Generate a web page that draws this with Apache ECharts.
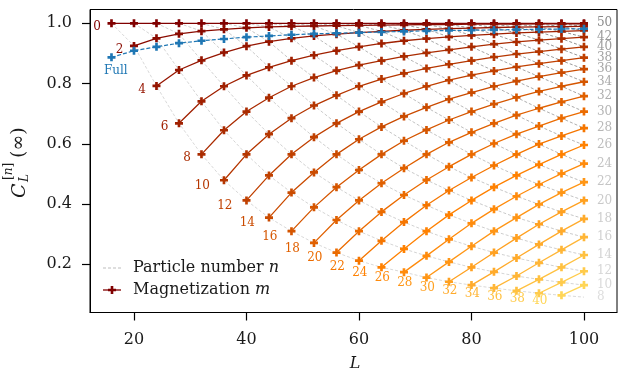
<!DOCTYPE html>
<html><head><meta charset="utf-8">
<script src="https://cdn.jsdelivr.net/npm/echarts@6/dist/echarts.min.js"></script>
<style>html,body{margin:0;padding:0;background:#fff}#c{width:621px;height:374px}</style>
</head><body><div id="c"></div>
<script>
// ---- data ----
const systemSizes = [16,20,24,28,32,36,40,44,48,52,56,60,64,68,72,76,80,84,88,92,96,100];
const magnetizations = [0,2,4,6,8,10,12,14,16,18,20,22,24,26,28,30,32,34,36,38,40];
// each curve's values belong to the LAST entries of systemSizes
const m0  = [1.000,1.000,1.000,1.000,1.000,1.000,1.000,1.000,1.000,1.000,1.000,1.000,1.000,1.000,1.000,1.000,1.000,1.000,1.000,1.000,1.000,1.000];
const m2  = [0.925,0.950,0.965,0.974,0.980,0.985,0.988,0.990,0.991,0.992,0.993,0.994,0.995,0.996,0.996,0.997,0.997,0.997,0.998,0.998,0.998];
const m4  = [0.792,0.845,0.877,0.903,0.924,0.939,0.950,0.958,0.964,0.969,0.973,0.977,0.980,0.982,0.984,0.986,0.987,0.988,0.989,0.990];
const m6  = [0.668,0.741,0.791,0.827,0.854,0.876,0.894,0.909,0.922,0.933,0.942,0.949,0.955,0.960,0.964,0.968,0.971,0.973,0.976];
const m8  = [0.565,0.645,0.707,0.753,0.791,0.820,0.843,0.861,0.876,0.890,0.902,0.912,0.922,0.931,0.938,0.944,0.949,0.954];
const m10 = [0.479,0.565,0.632,0.685,0.727,0.761,0.791,0.815,0.834,0.850,0.864,0.876,0.888,0.898,0.906,0.914,0.922];
const m12 = [0.412,0.495,0.565,0.622,0.668,0.707,0.739,0.767,0.791,0.811,0.828,0.842,0.855,0.866,0.876,0.886];
const m14 = [0.355,0.438,0.505,0.565,0.615,0.656,0.691,0.721,0.748,0.770,0.791,0.808,0.823,0.836,0.848];
const m16 = [0.310,0.389,0.456,0.513,0.565,0.610,0.646,0.679,0.707,0.732,0.754,0.774,0.791,0.806];
const m18 = [0.271,0.347,0.412,0.469,0.519,0.565,0.605,0.638,0.668,0.695,0.718,0.739,0.758];
const m20 = [0.239,0.310,0.374,0.430,0.480,0.524,0.565,0.601,0.632,0.659,0.685,0.707];
const m22 = [0.212,0.278,0.340,0.396,0.445,0.488,0.528,0.565,0.599,0.626,0.652];
const m24 = [0.190,0.251,0.310,0.364,0.412,0.456,0.495,0.531,0.565,0.596];
const m26 = [0.174,0.228,0.283,0.336,0.383,0.426,0.465,0.501,0.534];
const m28 = [0.156,0.208,0.260,0.310,0.355,0.399,0.438,0.473];
const m30 = [0.142,0.190,0.239,0.287,0.333,0.374,0.412];
const m32 = [0.131,0.175,0.221,0.266,0.310,0.351];
const m34 = [0.121,0.161,0.205,0.248,0.290];
const m36 = [0.112,0.150,0.190,0.231];
const m38 = [0.104,0.140,0.177];
const m40 = [0.097,0.131];
const m42 = [0.091];            // only the end of the n = 8 dashed line
const fullChain = [0.887,0.909,0.922,0.934,0.942,0.948,0.954,0.958,0.962,0.965,0.967,0.969,0.971,0.973,0.975,0.976,0.977,0.978,0.979,0.980,0.981,0.982];
const particleEndLabels = [50,42,40,38,36,34,32,30,28,26,24,22,20,18,16,14,12,10,8];
const xTicks = [20,40,60,80,100];
const yTicks = [0.2,0.4,0.6,0.8,1.0];

const curveValues = {0:m0,2:m2,4:m4,6:m6,8:m8,10:m10,12:m12,14:m14,16:m16,18:m18,20:m20,
  22:m22,24:m24,26:m26,28:m28,30:m30,32:m32,34:m34,36:m36,38:m38,40:m40,42:m42};

// ---- styling helpers ----
const FONT = 'DejaVu Serif';
function heat(k){
  const x = 0.25 + k/40*0.42;
  const cl = v => Math.max(0, Math.min(1, v));
  const r = cl(2*x), g = cl(2*x-0.5), b = cl(2*x-1);
  return 'rgb(' + Math.round(r*255) + ',' + Math.round(g*255) + ',' + Math.round(b*255) + ')';
}
const greysStops = [[0,255],[0.125,240],[0.25,217],[0.375,189],[0.5,150],[0.625,115],[0.75,82],[0.875,37],[1,0]];
function grey(n){
  const t = 0.27 + (n-8)/42*0.38;
  for (let i=0;i<greysStops.length-1;i++){
    const a = greysStops[i], b = greysStops[i+1];
    if (t>=a[0] && t<=b[0]){
      const v = Math.round(a[1] + (b[1]-a[1])*(t-a[0])/(b[0]-a[0]));
      return 'rgb(' + v + ',' + v + ',' + v + ')';
    }
  }
  return '#999';
}
const plusPath = 'path://M1,0H2V1H3V2H2V3H1V2H0V1H1Z';

function pointsOf(vals){
  const Ls = systemSizes.slice(systemSizes.length - vals.length);
  return vals.map((c,i) => [Ls[i], c]);
}

// dashed lines of constant particle number n = L/2 - m
const byN = {};
Object.keys(curveValues).forEach(ks => {
  const k = +ks;
  pointsOf(curveValues[k]).forEach(p => {
    const n = p[0]/2 - k;
    (byN[n] = byN[n] || []).push(p);
  });
});

const series = [];
Object.keys(byN).forEach(ns => {
  const n = +ns;
  const pts = byN[n].sort((a,b) => a[0]-b[0]);
  series.push({
    type: 'line', data: pts, symbol: 'none', silent: true, z: 1,
    lineStyle: {color: grey(n), width: 0.9, type: [3,2]}
  });
});

magnetizations.forEach(k => {
  const col = heat(k);
  const pts = pointsOf(curveValues[k]);
  const lab = String(k);
  const off = lab.length === 1 ? [-14.5, 4] : [-21.7, 5.7];
  series.push({
    type: 'line', z: 2, symbol: plusPath, symbolSize: 8, silent: true,
    itemStyle: {color: col}, lineStyle: {color: col, width: 1.3},
    data: pts.map((p,i) => i === 0 ? {value: p, label: {show: true, formatter: lab, position: 'inside',
      offset: off, color: col, fontFamily: FONT, fontSize: 12}} : p)
  });
});

const fullPts = pointsOf(fullChain);
series.push({
  type: 'line', z: 3, symbol: plusPath, symbolSize: 8, silent: true,
  itemStyle: {color: '#1f77b4'}, lineStyle: {color: '#1f77b4', width: 1.2, type: [4,2]},
  data: fullPts.map((p,i) => i === 0 ? {value: p, label: {show: true, formatter: 'Full', position: 'inside',
    offset: [4.3, 14], color: '#1f77b4', fontFamily: FONT, fontSize: 12}} : p)
});

// right-hand n labels at the end of each dashed line
series.push({
  type: 'scatter', z: 4, silent: true, symbol: 'circle', symbolSize: 1,
  itemStyle: {color: 'rgba(0,0,0,0)'},
  data: particleEndLabels.map(n => {
    const pts = byN[n];
    const last = pts[pts.length-1];
    return {value: last, label: {show: true, position: 'right', distance: 12.5, formatter: String(n),
      color: grey(n), fontFamily: FONT, fontSize: 12}};
  })
});

const chart = echarts.init(document.getElementById('c'), null, {renderer: 'canvas'});
chart.setOption({
  animation: false,
  grid: {left: 90, right: 4, top: 9.5, bottom: 61.5, show: true, borderColor: '#000', borderWidth: 1, backgroundColor: '#fff'},
  xAxis: {
    type: 'value', min: 12.18, max: 105.87,
    splitLine: {show: false},
    axisLine: {show: true, onZero: false, lineStyle: {color: '#000', width: 1}},
    axisTick: {show: true, length: 8, customValues: xTicks, lineStyle: {color: '#000', width: 1.2}},
    axisLabel: {customValues: xTicks, fontFamily: FONT, fontSize: 16, color: '#1a1a1a', margin: 19}
  },
  yAxis: {
    type: 'value', min: 0.04, max: 1.0458,
    splitLine: {show: false},
    axisLine: {show: true, onZero: false, lineStyle: {color: '#000', width: 1}},
    axisTick: {show: true, length: 8, customValues: yTicks, lineStyle: {color: '#000', width: 1.2}},
    axisLabel: {customValues: yTicks, formatter: v => v.toFixed(1), fontFamily: FONT, fontSize: 16, color: '#1a1a1a', margin: 18}
  },
  series: series,
  graphic: [
    {type: 'line', shape: {x1: 103, y1: 268, x2: 121, y2: 268}, style: {stroke: '#bdbdbd', lineWidth: 1, lineDash: [3,2]}, z: 10},
    {type: 'text', x: 133, y: 268, z: 10, style: {text: '{a|Particle number }{b|n}', verticalAlign: 'middle', fill: '#1a1a1a',
      rich: {a: {fontFamily: FONT, fontSize: 16, fill: '#1a1a1a'}, b: {fontFamily: FONT, fontSize: 16, fontStyle: 'italic', fill: '#1a1a1a'}}}},
    {type: 'line', shape: {x1: 103, y1: 290, x2: 121, y2: 290}, style: {stroke: heat(0), lineWidth: 1.3}, z: 10},
    {type: 'polygon', z: 11, shape: {points: [[110.7,286],[113.3,286],[113.3,288.7],[116,288.7],[116,291.3],[113.3,291.3],[113.3,294],[110.7,294],[110.7,291.3],[108,291.3],[108,288.7],[110.7,288.7]]}, style: {fill: heat(0)}},
    {type: 'text', x: 133, y: 290, z: 10, style: {text: '{a|Magnetization }{b|m}', verticalAlign: 'middle', fill: '#1a1a1a',
      rich: {a: {fontFamily: FONT, fontSize: 16, fill: '#1a1a1a'}, b: {fontFamily: FONT, fontSize: 16, fontStyle: 'italic', fill: '#1a1a1a'}}}},
    {type: 'text', x: 355, y: 364, style: {text: 'L', fontFamily: FONT, fontSize: 16, fontStyle: 'italic', fill: '#1a1a1a', align: 'center', verticalAlign: 'middle'}},
    {type: 'group', x: 28, y: 198, rotation: Math.PI/2, children: [
      {type: 'text', x: 0, y: -7.5, style: {text: 'C', fontFamily: FONT, fontSize: 19, fontStyle: 'italic', fill: '#1a1a1a', align: 'left', verticalAlign: 'middle'}},
      {type: 'text', x: 16, y: -3, style: {text: 'L', fontFamily: FONT, fontSize: 12, fontStyle: 'italic', fill: '#1a1a1a', align: 'left', verticalAlign: 'middle'}},
      {type: 'text', x: 18, y: -19, style: {text: '{a|[}{b|n}{a|]}', verticalAlign: 'middle', align: 'left',
        rich: {a: {fontFamily: FONT, fontSize: 12, fill: '#1a1a1a'}, b: {fontFamily: FONT, fontSize: 12, fontStyle: 'italic', fill: '#1a1a1a'}}}},
      {type: 'text', x: 40, y: -8.5, style: {text: '(\u221E)', fontFamily: FONT, fontSize: 19, fill: '#1a1a1a', align: 'left', verticalAlign: 'middle'}}
    ]}
  ]
});
</script>
</body></html>
